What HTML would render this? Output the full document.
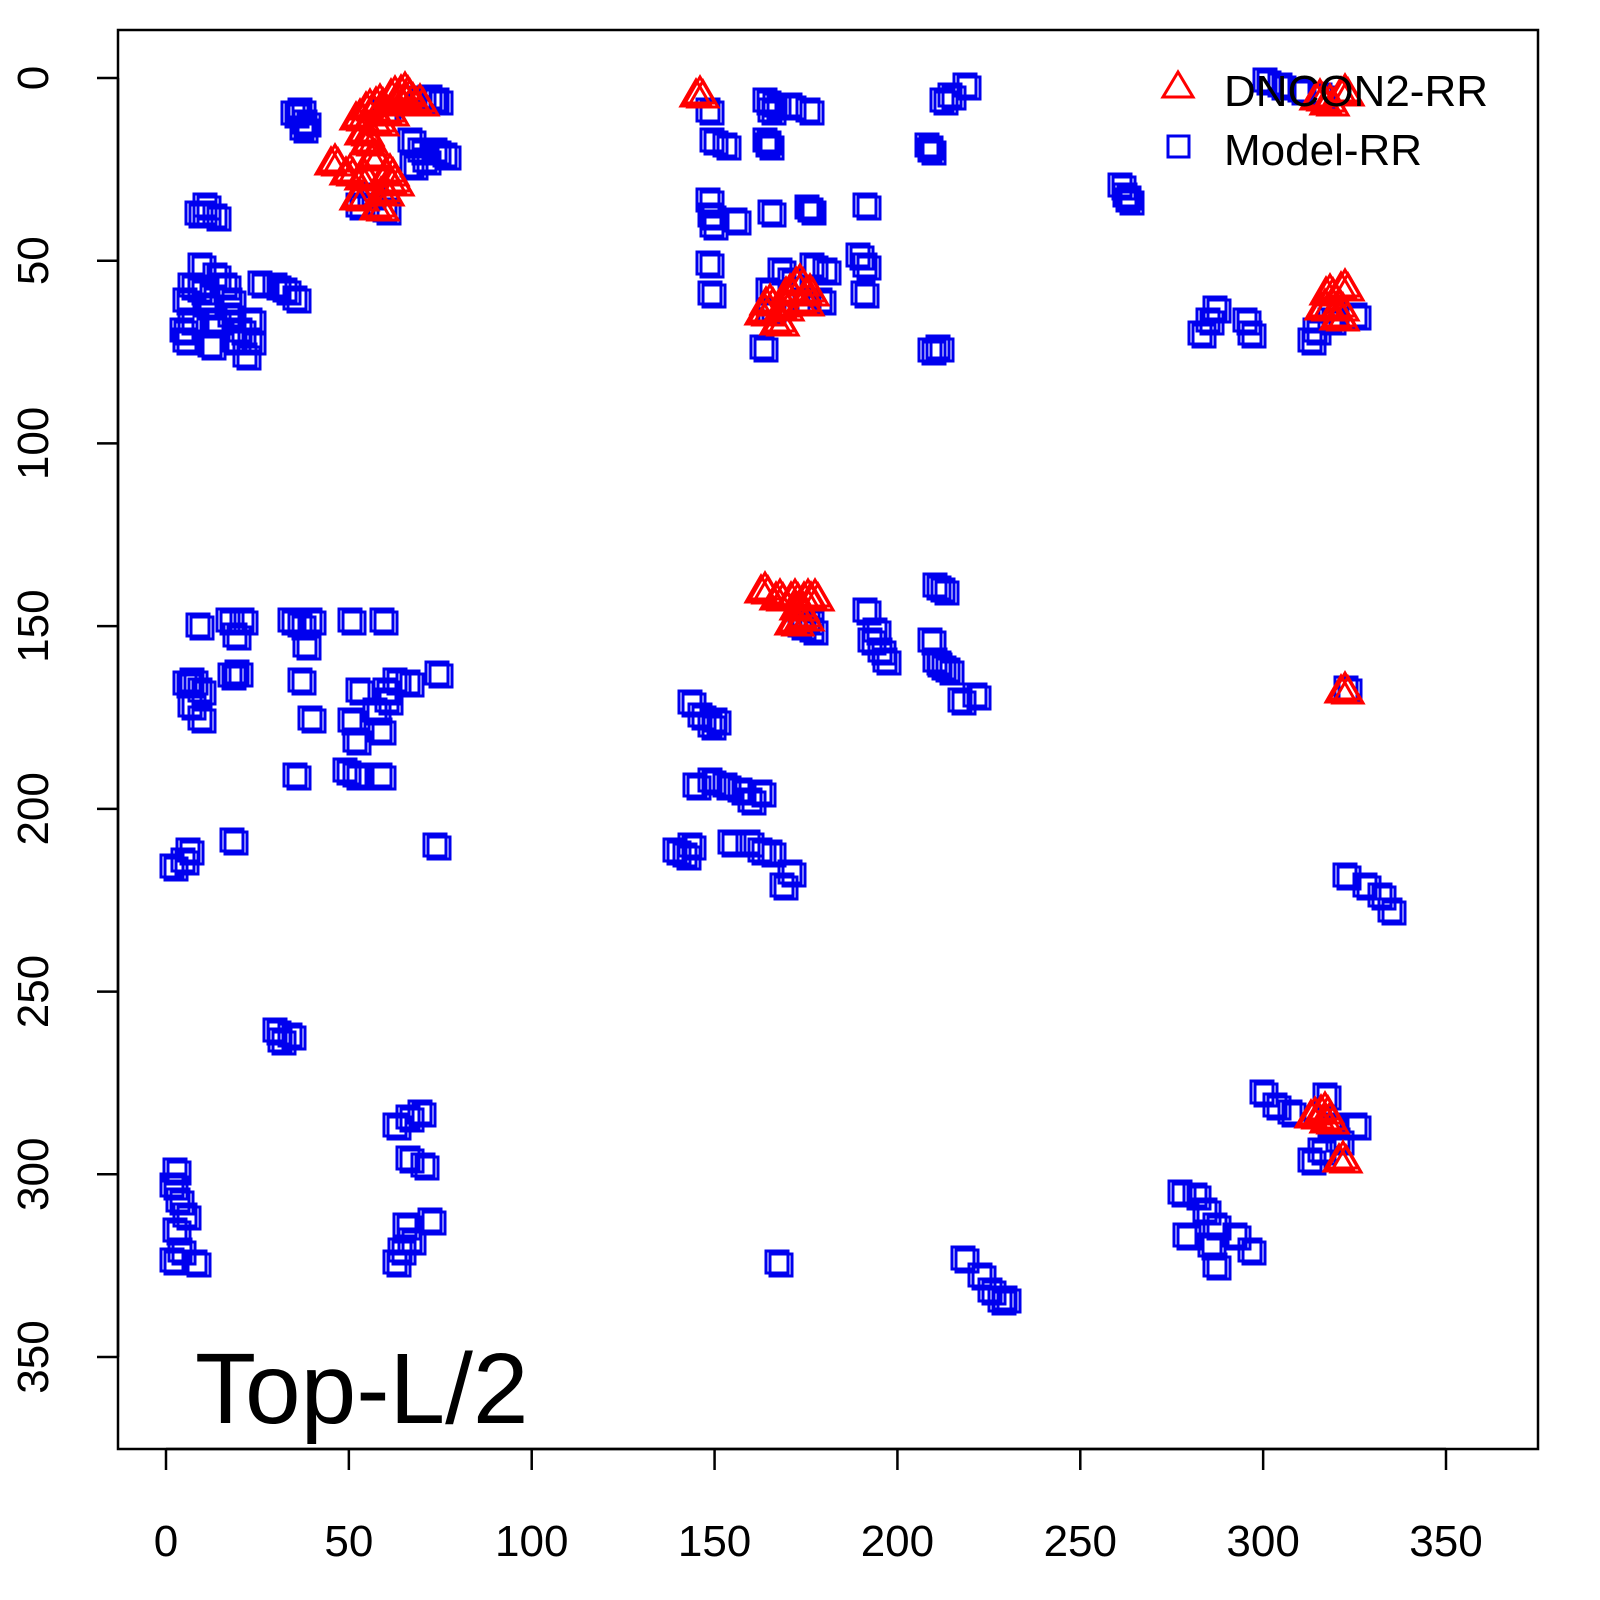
<!DOCTYPE html>
<html><head><meta charset="utf-8"><style>html,body{margin:0;padding:0;background:#fff;overflow:hidden;width:1600px;height:1600px}svg{display:block}</style></head>
<body>
<svg id="s" width="1600" height="1600" xmlns="http://www.w3.org/2000/svg" font-family="Liberation Sans, sans-serif">
<rect x="118" y="30" width="1420" height="1419" fill="none" stroke="#000" stroke-width="2.5"/>
<g id="sq" fill="none" stroke="#0000ee" stroke-width="3"></g>
<g id="tr" fill="none" stroke="#ff0000" stroke-width="3"></g>
<g id="ax" stroke="#000" stroke-width="2.5"></g>
<g font-size="44" fill="#000" text-anchor="middle" id="lab"></g>
<polygon points="1178,72 1193,97 1163,97" fill="none" stroke="#ff0000" stroke-width="3"/>
<text x="1224" y="106" font-size="44">DNCON2-RR</text>
<rect x="1168" y="136" width="21" height="21" fill="none" stroke="#0000ee" stroke-width="3"/>
<text x="1224" y="165" font-size="44">Model-RR</text>
<text x="195" y="1423" font-size="100">Top-L/2</text>
</svg>
<script>
var sq=[[293,113],[300,110],[305,122],[302,128],[385,110],[420,98],[430,97],[437,100],[410,140],[420,150],[435,150],[445,155],[412,165],[425,160],[370,195],[385,210],[358,205],
[197,213],[205,213],[215,216],[205,205],
[200,265],[190,285],[185,300],[190,320],[185,340],[200,290],[215,275],[225,285],[230,300],[215,320],[235,340],[245,355],[240,330],[210,345],[250,320],[260,283],[275,285],[285,290],[295,298],[182,330],[205,305],[230,315],[250,340],
[708,110],[712,140],[725,145],[765,100],[770,110],[775,105],[790,105],[808,110],[765,140],[768,145],[708,200],[710,215],[712,225],[735,220],[770,212],[807,207],[810,210],[865,205],[708,263],[710,293],[768,290],[770,310],[780,270],[790,280],[812,265],[825,270],[805,300],[820,300],[858,255],[865,265],[863,293],[762,347],
[927,145],[930,150],[942,100],[950,95],[965,85],[938,347],[930,350],
[1120,185],[1125,195],[1128,200],[1265,80],[1280,85],[1300,90],[1320,95],[1200,333],[1208,320],[1215,308],[1245,320],[1250,333],[1310,340],[1315,330],[1330,320],[1355,315],
[198,625],[228,620],[235,635],[242,620],[290,620],[300,625],[310,620],[305,645],[350,620],[382,620],[300,680],[310,718],[295,775],[345,770],[355,775],[380,775],[185,683],[192,680],[200,690],[190,705],[200,718],[230,675],[237,672],[358,690],[350,720],[355,740],[380,730],[375,710],[385,690],[395,680],[408,682],[387,700],[437,673],
[232,840],[172,866],[183,860],[188,850],[435,845],
[175,1170],[172,1185],[175,1230],[180,1250],[185,1215],[178,1200],[172,1260],[195,1262],
[275,1030],[280,1040],[290,1035],
[395,1125],[408,1117],[420,1112],[408,1158],[423,1165],[405,1225],[430,1220],[395,1262],[400,1250],[410,1240],
[690,702],[700,715],[715,720],[710,725],[695,785],[710,780],[725,785],[740,790],[760,792],[750,800],[730,842],[748,842],[760,850],[770,852],[675,850],[685,855],[690,845],[790,872],[782,885],[777,1262],
[808,620],[812,630],[800,625],[865,610],[875,630],[880,650],[885,660],[870,640],[935,585],[943,590],[930,640],[940,665],[948,670],[960,700],[975,695],[935,660],
[1346,688],[1345,875],[1365,885],[1380,895],[1390,910],[1262,1092],[1275,1105],[1290,1112],[1325,1095],[1330,1125],[1355,1125],[1338,1140],[1320,1150],
[1180,1192],[1195,1195],[1205,1210],[1215,1225],[1210,1245],[1215,1265],[1185,1235],[1235,1235],[1250,1250],
[963,1258],[980,1275],[990,1290],[1000,1300],[1005,1298],[1310,1160]];
var tr=[[335,160],[350,170],[365,175],[360,195],[380,205],[370,140],[380,120],[390,110],[400,100],[410,95],[420,100],[375,155],[390,170],[385,190],[395,180],[365,130],[360,115],[370,105],[380,100],[395,92],[405,88],[700,92],
[765,310],[780,320],[790,290],[800,280],[810,290],[805,300],[770,300],[785,305],
[765,588],[780,595],[795,595],[800,605],[808,595],[815,595],[805,615],[795,620],
[1345,688],[1343,1157],[1315,1113],[1325,1108],[1330,1118],[1320,95],[1330,100],[1345,90],
[1330,290],[1340,315],[1345,285],[1340,305],[1325,305]];
var NS="http://www.w3.org/2000/svg";
function el(n,a,p){var e=document.createElementNS(NS,n);for(var k in a)e.setAttribute(k,a[k]);document.getElementById(p).appendChild(e);return e;}
var J=[[0,0],[4,3]];
sq.forEach(function(p){J.forEach(function(j){el("rect",{x:p[0]-11+j[0],y:p[1]-11+j[1],width:22,height:22},"sq");});});
var J2=[[0,0],[3,4],[-4,3]];
tr.forEach(function(p){J2.forEach(function(j){var x=p[0]+j[0],y=p[1]+j[1];el("polygon",{points:x+","+(y-15)+" "+(x+15)+","+(y+11)+" "+(x-15)+","+(y+11)},"tr");});});
var s=1280/350;
el("line",{x1:166,y1:1449,x2:1446,y2:1449},"ax");
el("line",{x1:118,y1:78,x2:118,y2:1357},"ax");
for(var v=0;v<=350;v+=50){var x=166+v*s,y=78+v*1279/350;
el("line",{x1:x,y1:1449,x2:x,y2:1470},"ax");
el("text",{x:x,y:1556},"lab").textContent=v;
el("line",{x1:118,y1:y,x2:97,y2:y},"ax");
var t=el("text",{x:0,y:0,transform:"translate(48,"+y+") rotate(-90)"},"lab");t.textContent=v;}
</script>
</body></html>
